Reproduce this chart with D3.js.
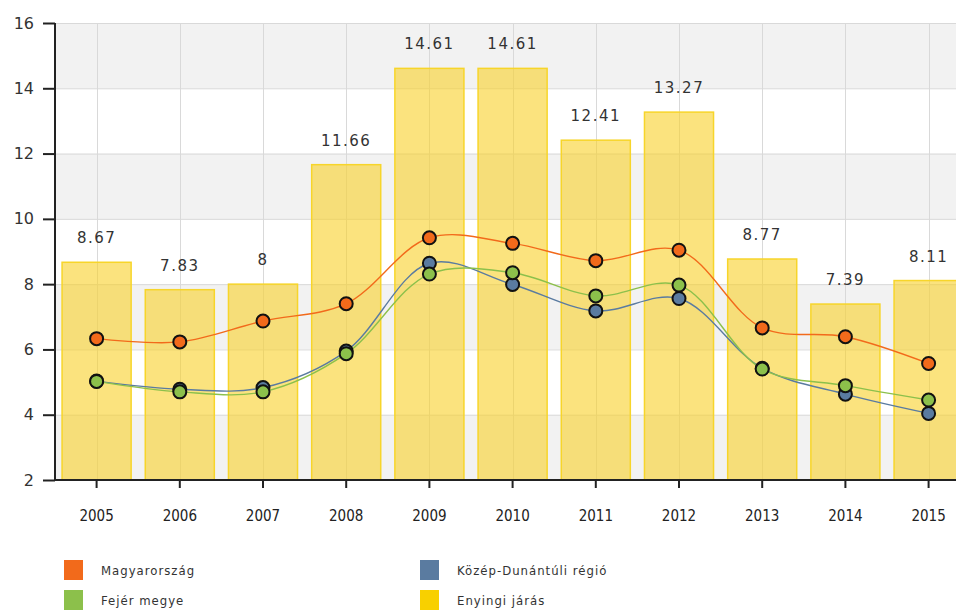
<!DOCTYPE html>
<html>
<head>
<meta charset="utf-8">
<script src="https://cdn.jsdelivr.net/npm/d3@7"></script>
<style>
  body { margin: 0; background: #fff; }
  svg { display: block; font-family: "DejaVu Sans", Verdana, sans-serif; }
</style>
</head>
<body>
<div id="chart"></div>
<script>
// data
const years = ["2005", "2006", "2007", "2008", "2009", "2010", "2011", "2012", "2013", "2014", "2015"];
const enyingi = [8.67, 7.83, 8, 11.66, 14.61, 14.61, 12.41, 13.27, 8.77, 7.39, 8.11];
const magyarorszag = [6.33, 6.23, 6.87, 7.40, 9.42, 9.25, 8.72, 9.04, 6.66, 6.39, 5.57];
const kozepDunantul = [5.03, 4.78, 4.83, 5.95, 8.64, 7.99, 7.18, 7.56, 5.42, 4.63, 4.04];
const fejer = [5.02, 4.70, 4.70, 5.87, 8.31, 8.35, 7.64, 7.97, 5.40, 4.89, 4.45];
const yTicks = [2, 4, 6, 8, 10, 12, 14, 16];

const legendItems = [
	{ name: "Magyarország", color: "#f26a1b" },
	{ name: "Közép-Dunántúli régió", color: "#5a7ba0" },
	{ name: "Fejér megye", color: "#8cc04b" },
	{ name: "Enyingi járás", color: "#f8d000" }
];

const width = 956, height = 616;
const margin = { top: 23, left: 55, bottom: 136 };
const plotBottom = height - margin.bottom; // 480

const svg = d3.select("#chart").append("svg")
	.attr("width", width)
	.attr("height", height);

const x = d3.scaleBand()
	.domain(years)
	.range([margin.left, margin.left + 11 * 83.2])
	.paddingInner(0.17)
	.paddingOuter(0.085);

const xc = d => x(d) + x.bandwidth() / 2;

const y = d3.scaleLinear()
	.domain([2, 16])
	.range([plotBottom, margin.top]);

// alternating background stripes
const stripes = d3.range(0, yTicks.length - 1);
svg.append("g")
	.selectAll("rect")
	.data(stripes)
	.join("rect")
	.attr("x", margin.left)
	.attr("width", width - margin.left)
	.attr("y", i => y(yTicks[i + 1]))
	.attr("height", i => y(yTicks[i]) - y(yTicks[i + 1]))
	.attr("fill", i => i % 2 === 0 ? "#f2f2f2" : "#ffffff");

// grid
const grid = svg.append("g").attr("stroke", "#d9d9d9").attr("stroke-width", 1);
grid.selectAll(".hg")
	.data(yTicks)
	.join("line")
	.attr("x1", margin.left).attr("x2", width)
	.attr("y1", d => y(d) + 0.5).attr("y2", d => y(d) + 0.5);
grid.selectAll(".vg")
	.data(years)
	.join("line")
	.attr("x1", d => Math.round(xc(d)) + 0.5).attr("x2", d => Math.round(xc(d)) + 0.5)
	.attr("y1", margin.top).attr("y2", plotBottom);

// bars
svg.append("g")
	.selectAll("rect")
	.data(years)
	.join("rect")
	.attr("x", d => x(d))
	.attr("width", x.bandwidth())
	.attr("y", (d, i) => y(enyingi[i]))
	.attr("height", (d, i) => plotBottom - y(enyingi[i]))
	.attr("fill", "#f8d028")
	.attr("fill-opacity", 0.6)
	.attr("stroke", "#f7d52a")
	.attr("stroke-width", 1.5);

// bar value labels
svg.append("g")
	.selectAll("text")
	.data(years)
	.join("text")
	.attr("x", d => xc(d))
	.attr("y", (d, i) => y(enyingi[i]) - 19)
	.attr("text-anchor", "middle")
	.attr("font-size", 15)
	.attr("letter-spacing", 1.5)
	.attr("fill", "#333")
	.text((d, i) => enyingi[i]);

// lines
const line = d3.line()
	.x((d, i) => xc(years[i]))
	.y(d => y(d))
	.curve(d3.curveCatmullRom.alpha(0.5));

const series = [
	{ values: kozepDunantul, color: "#5a7ba0" },
	{ values: fejer, color: "#8cc04b" },
	{ values: magyarorszag, color: "#f26a1b" }
];

series.forEach(s => {
	svg.append("path")
		.datum(s.values)
		.attr("d", line)
		.attr("fill", "none")
		.attr("stroke", s.color)
		.attr("stroke-width", 1.4);
});

series.forEach(s => {
	svg.append("g")
		.selectAll("circle")
		.data(s.values)
		.join("circle")
		.attr("cx", (d, i) => xc(years[i]))
		.attr("cy", d => y(d))
		.attr("r", 6.5)
		.attr("fill", s.color)
		.attr("stroke", "#111")
		.attr("stroke-width", 2);
});

// axes
const yAxis = svg.append("g")
	.attr("transform", "translate(" + margin.left + ",0)")
	.call(d3.axisLeft(y).tickValues(yTicks).tickSize(12).tickPadding(9).tickFormat(d3.format("d")));
yAxis.select(".domain").attr("stroke", "#222").attr("stroke-width", 2).attr("d", "M0," + margin.top + "V" + plotBottom);
yAxis.selectAll(".tick line").attr("stroke", "#222").attr("stroke-width", 2);
yAxis.selectAll(".tick text").attr("font-size", 16).attr("fill", "#333").attr("font-family", "'DejaVu Sans', sans-serif");

const xAxis = svg.append("g")
	.attr("transform", "translate(0," + plotBottom + ")")
	.call(d3.axisBottom(x).tickSize(8).tickPadding(22));
xAxis.select(".domain").attr("stroke", "#222").attr("stroke-width", 2).attr("d", "M" + margin.left + ",0H" + width);
xAxis.selectAll(".tick line").attr("stroke", "#222").attr("stroke-width", 2);
xAxis.selectAll(".tick text").attr("font-size", 15).attr("fill", "#222").attr("font-family", "'DejaVu Sans Condensed', 'DejaVu Sans', sans-serif");

// legend
const legend = svg.append("g").attr("font-size", 13).attr("fill", "#333");
legendItems.forEach((item, i) => {
	const col = i % 2, row = Math.floor(i / 2);
	const g = legend.append("g")
		.attr("transform", "translate(" + (64 + col * 356) + "," + (560 + row * 30) + ")");
	g.append("rect")
		.attr("width", 19).attr("height", 20)
		.attr("fill", item.color);
	g.append("text")
		.attr("x", 37).attr("y", 15)
		.attr("fill", "#333")
		.attr("letter-spacing", 1)
		.attr("font-family", "'DejaVu Sans Condensed', 'Liberation Sans', sans-serif")
		.text(item.name);
});
</script>
</body>
</html>
